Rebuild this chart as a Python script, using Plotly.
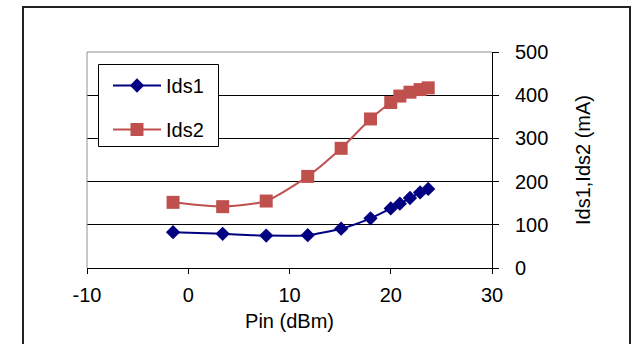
import plotly.graph_objects as go

# Input power sweep and drain currents of the two stages
pin_dbm = [-1.5, 3.4, 7.7, 11.8, 15.1, 18.0, 20.0, 20.9, 21.9, 22.9, 23.7]
ids1_ma = [83, 79, 75, 76, 91, 115, 138, 149, 162, 175, 183]
ids2_ma = [152, 142, 155, 212, 277, 345, 383, 398, 407, 413, 417]

x_ticks = [-10, 0, 10, 20, 30]
y_ticks = [0, 100, 200, 300, 400, 500]

FONT = "Liberation Sans, Arial, sans-serif"
W, H = 631, 344
L, R, T, B = 87, 492, 52, 268  # plot-area edges in pixels


def px(x):
    return (x - L) / (R - L)


def py(y):
    return (B - y) / (B - T)


fig = go.Figure()
fig.add_trace(go.Scatter(
    x=pin_dbm, y=ids1_ma, name="Ids1", mode="lines+markers",
    line=dict(color="#000080", width=2, shape="spline", smoothing=0.6),
    marker=dict(symbol="diamond", size=11, color="#000080"),
    legendgroup="a",
))
fig.add_trace(go.Scatter(
    x=pin_dbm, y=ids2_ma, name="Ids2", mode="lines+markers",
    line=dict(color="#C0504D", width=2, shape="spline", smoothing=0.6),
    marker=dict(symbol="square", size=13, color="#C0504D"),
    legendgroup="b",
))

shapes = [
    # outer chart frame
    dict(type="rect", xref="paper", yref="paper",
         x0=px(23), x1=px(630), y0=py(360), y1=py(7),
         line=dict(color="#222222", width=2), layer="below"),
    # grey top and left edges of the plot area
    dict(type="line", xref="paper", yref="paper", x0=0, x1=1, y0=1, y1=1,
         line=dict(color="#909090", width=1)),
    dict(type="line", xref="paper", yref="paper", x0=0, x1=0, y0=0, y1=1,
         line=dict(color="#909090", width=1)),
    # legend box
    dict(type="rect", xref="paper", yref="paper",
         x0=px(98.5), x1=px(218.5), y0=py(146.5), y1=py(64.5),
         line=dict(color="black", width=1), fillcolor="white", layer="above"),
]

fig.update_layout(
    width=W, height=H,
    margin=dict(l=L, r=W - R, t=T, b=H - B, pad=0),
    paper_bgcolor="white", plot_bgcolor="white",
    font=dict(family=FONT, size=20, color="black"),
    shapes=shapes,
    showlegend=True,
    legend=dict(
        x=px(108), y=py(66), xanchor="left", yanchor="top",
        bgcolor="rgba(0,0,0,0)", borderwidth=0,
        font=dict(family=FONT, size=20, color="black"),
        itemwidth=48, traceorder="grouped", tracegroupgap=15,
    ),
    xaxis=dict(
        range=[-10, 30], tickvals=x_ticks, ticktext=[str(v) for v in x_ticks],
        showgrid=False, zeroline=False,
        showline=True, linecolor="black", linewidth=1,
        ticks="outside", ticklen=5, tickcolor="black", tickwidth=1,
        ticklabelstandoff=4,
        title=dict(text="Pin (dBm)", standoff=8, font=dict(size=20)),
    ),
    yaxis=dict(
        range=[0, 500], tickvals=y_ticks, ticktext=[str(v) for v in y_ticks],
        side="right",
        showgrid=True, gridcolor="black", gridwidth=1, zeroline=False,
        showline=True, linecolor="black", linewidth=1,
        ticks="outside", ticklen=6, tickcolor="black", tickwidth=1,
        ticklabelstandoff=12,
        title=dict(text="Ids1,Ids2 (mA)", standoff=28, font=dict(size=20)),
    ),
)

fig.write_html("out.html")
